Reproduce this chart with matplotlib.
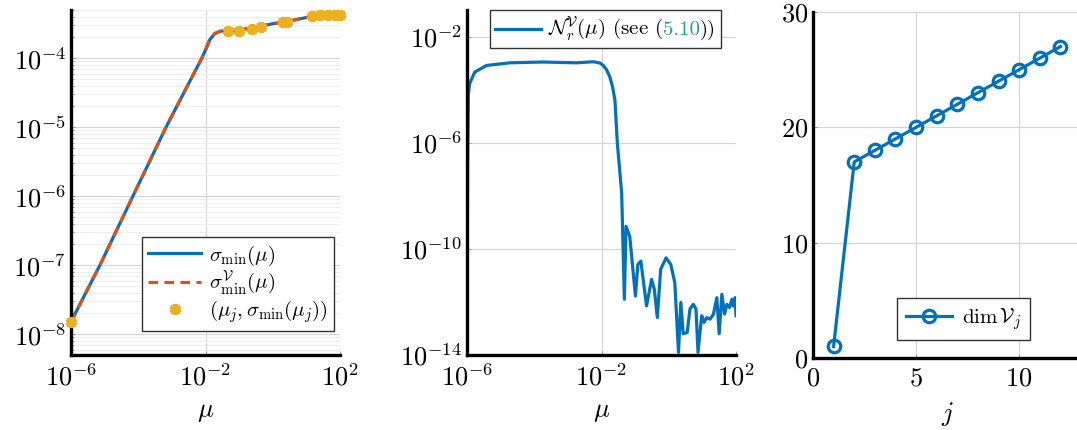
import numpy as np
import matplotlib
matplotlib.use("Agg")
import matplotlib.pyplot as plt
from matplotlib.lines import Line2D
from matplotlib.offsetbox import AnchoredOffsetbox, HPacker, TextArea, DrawingArea

plt.rcParams['mathtext.fontset'] = 'cm'
plt.rcParams['font.family'] = 'serif'
plt.rcParams['font.serif'] = ['cmr10', 'DejaVu Serif']
plt.rcParams['axes.formatter.use_mathtext'] = True

BLUE = '#0072BD'
RED = '#D95319'
YELLOW = '#EDB120'
TEAL = '#2a9d94'

# panel 1: smallest singular value (log10 values)
mu_log = [-6.0, -5.14, -4.16, -3.175, -2.11, -2.0, -1.87, -1.72, -1.57, -1.42,
          -1.0, -0.5, 0.0, 0.5, 1.0, 1.5, 2.0]
sigma_log = [-7.82, -7.0, -6.0, -5.0, -4.0, -3.88, -3.73, -3.64, -3.61, -3.60,
             -3.59, -3.55, -3.50, -3.46, -3.41, -3.38, -3.37]
# reduced version sits on top of the full one
sigma_V_log = sigma_log

# sample points (mu_j, sigma_min(mu_j))
muj_log = [-6.0, -1.32, -0.995, -0.63, -0.35, 0.30, 0.43, 1.16, 1.40, 1.65, 1.85, 2.0]
sigj_log = [-7.82, -3.60, -3.60, -3.57, -3.55, -3.48, -3.47, -3.39, -3.38, -3.377, -3.377, -3.377]

# panel 2: residual estimate N_r^V(mu)
nr_mu_log = [-6.0, -5.98, -5.96, -5.92, -5.77, -5.42, -4.73, -3.75, -2.74, -2.24,
             -2.04, -1.95, -1.85, -1.75, -1.67, -1.60, -1.53, -1.40, -1.32,
             -1.27, -1.16, -0.99, -0.92,
             -0.83, -0.66, -0.51, -0.43, -0.34, -0.24, -0.08, 0.06, 0.18, 0.29,
             0.36, 0.43, 0.55, 0.63, 0.73, 0.81, 0.87, 0.98, 1.05, 1.13,
             1.23, 1.33, 1.43, 1.50, 1.58, 1.66, 1.73, 1.81, 1.88, 1.92,
             1.97, 2.0]
nr_val_log = [-13.0, -6.5, -4.2, -3.77, -3.34, -3.09, -2.99, -2.96, -2.99, -2.95,
              -3.0, -3.09, -3.25, -3.53, -3.9, -4.4, -6.0, -7.9, -11.9,
              -9.15, -9.53, -11.78, -10.59,
              -10.46, -12.15, -11.15, -11.52, -12.59, -10.77, -10.34, -10.59, -11.27, -13.9,
              -12.02, -13.2, -13.15, -12.27, -12.09, -12.27, -13.9, -12.52, -12.77, -12.59,
              -12.65, -12.46, -11.84, -13.2, -11.71, -12.46, -12.09, -12.21, -11.9, -12.15,
              -11.84, -12.52]

# panel 3: dimension of the reduced space
j_vals = [1, 2, 3, 4, 5, 6, 7, 8, 9, 10, 11, 12]
dim_vals = [1, 17, 18, 19, 20, 21, 22, 23, 24, 25, 26, 27]

W, H = 1077, 430
fig = plt.figure(figsize=(W / 100, H / 100), dpi=100)

def px_axes(left, top, right, bottom):
    return fig.add_axes([left / W, 1 - bottom / H, (right - left) / W, (bottom - top) / H])

tick_fs = 19
leg_fs = 15

def style(ax):
    for s in ['top', 'right']:
        ax.spines[s].set_visible(False)
    for s in ['left', 'bottom']:
        ax.spines[s].set_linewidth(2.4)
        ax.spines[s].set_zorder(5)
    ax.tick_params(which='both', direction='in', labelsize=tick_fs, color='#888888',
                   length=3, width=0.6)
    ax.tick_params(axis='x', pad=6)
    ax.tick_params(which='minor', length=2)
    ax.grid(True, which='major', color='#d4d4d4', lw=0.8)
    ax.set_axisbelow(True)

def frame(leg):
    leg.get_frame().set_linewidth(1.0)

# ---- panel 1
ax1 = px_axes(71, 10, 340, 355)
style(ax1)
ax1.set_xscale('log')
ax1.set_yscale('log')
mu = 10.0 ** np.array(mu_log)
ax1.plot(mu, 10.0 ** np.array(sigma_log), color=BLUE, lw=2.3, label=r'$\sigma_{\min}(\mu)$')
ax1.plot(mu, 10.0 ** np.array(sigma_V_log), color=RED, lw=2.3, dashes=(3, 2),
         label=r'$\sigma_{\min}^{\mathcal{V}}(\mu)$')
ax1.plot(10.0 ** np.array(muj_log), 10.0 ** np.array(sigj_log), ls='none',
         marker=(6, 2, 0), ms=8, mew=3, color=YELLOW, zorder=6,
         label=r'$(\mu_j,\sigma_{\min}(\mu_j))$', clip_on=False)
ax1.set_xlim(1e-6, 1e2)
ax1.set_ylim(5e-9, 5e-4)
ax1.set_xticks([1e-6, 1e-2, 1e2])
ax1.xaxis.set_minor_locator(matplotlib.ticker.NullLocator())
ax1.set_yticks([1e-8, 1e-7, 1e-6, 1e-5, 1e-4])
ax1.yaxis.set_minor_locator(matplotlib.ticker.LogLocator(subs=np.arange(2, 10), numticks=20))
ax1.yaxis.set_minor_formatter(matplotlib.ticker.NullFormatter())
ax1.grid(True, which='minor', axis='y', color='#ececec', lw=0.6)
ax1.set_xlabel(r'$\mu$', fontsize=tick_fs, labelpad=7)
leg1 = ax1.legend(loc='lower right', bbox_to_anchor=(0.978, 0.07), fontsize=leg_fs,
                  fancybox=False, edgecolor='#333333', framealpha=1,
                  handlelength=2.5, handletextpad=0.4, labelspacing=0.05,
                  borderpad=0.3, borderaxespad=0)
frame(leg1)

# ---- panel 2
ax2 = px_axes(467, 10, 736, 355)
style(ax2)
ax2.set_xscale('log')
ax2.set_yscale('log')
ax2.plot(10.0 ** np.array(nr_mu_log), 10.0 ** np.array(nr_val_log), color=BLUE, lw=2.3)
ax2.set_xlim(1e-6, 1e2)
ax2.set_ylim(1e-14, 1e-1)
ax2.set_xticks([1e-6, 1e-2, 1e2])
ax2.set_yticks([1e-14, 1e-10, 1e-6, 1e-2])
ax2.xaxis.set_minor_locator(matplotlib.ticker.NullLocator())
ax2.yaxis.set_minor_locator(matplotlib.ticker.NullLocator())
ax2.set_xlabel(r'$\mu$', fontsize=tick_fs, labelpad=7)

# legend with a coloured equation reference
da = DrawingArea(33, 8, 0, 0)
da.add_artist(Line2D([0, 33], [4, 4], color=BLUE, lw=2.3))
parts = HPacker(children=[
    TextArea(r'$\mathcal{N}_r^{\mathcal{V}}(\mu)$ (see (', textprops=dict(fontsize=leg_fs)),
    TextArea('5.10', textprops=dict(fontsize=leg_fs, color=TEAL)),
    TextArea('))', textprops=dict(fontsize=leg_fs)),
], sep=0, pad=0, align='baseline')
box = HPacker(children=[da, parts], sep=5, pad=0, align='center')
anch = AnchoredOffsetbox(loc='upper right', child=box, pad=0.35, borderpad=0,
                         frameon=True, bbox_to_anchor=(0.944, 1.0),
                         bbox_transform=ax2.transAxes)
anch.patch.set_edgecolor('#333333')
anch.patch.set_linewidth(1.0)
anch.patch.set_boxstyle('square', pad=0)
ax2.add_artist(anch)

# ---- panel 3
ax3 = px_axes(813, 12, 1081, 358)
style(ax3)
ax3.plot(j_vals, dim_vals, color=BLUE, lw=2.3, marker='o', ms=9, mfc='none', mew=2.3,
         label=r'$\dim\mathcal{V}_j$', clip_on=False, zorder=6)
ax3.set_xlim(0, 13)
ax3.set_ylim(0, 30)
ax3.set_xticks([0, 5, 10])
ax3.set_yticks([0, 10, 20, 30])
ax3.set_xlabel(r'$j$', fontsize=tick_fs, labelpad=7)
leg3 = ax3.legend(loc='lower right', bbox_to_anchor=(0.808, 0.052), fontsize=leg_fs,
                  fancybox=False, edgecolor='#333333', framealpha=1,
                  handlelength=2.2, handletextpad=0.5, borderpad=0.4, borderaxespad=0)
frame(leg3)

fig.savefig('out.png', dpi=100)
